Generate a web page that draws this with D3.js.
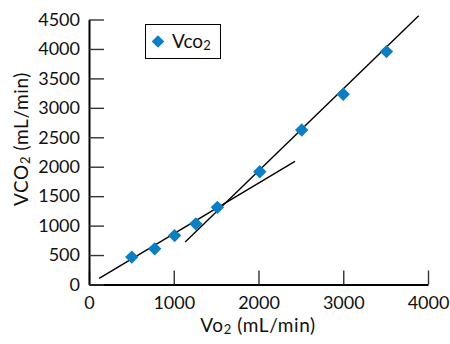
<!DOCTYPE html>
<html>
<head>
<meta charset="utf-8">
<script src="https://cdn.jsdelivr.net/npm/d3@7"></script>
<style>
  body { margin: 0; background: #fff; }
  text { font-family: Lato, "Open Sans", sans-serif; fill: #111; }
</style>
</head>
<body>
<svg id="chart" width="450" height="344"></svg>
<script>
// measured points (VO2, VCO2) in mL/min
const vo2 = [505, 775, 1010, 1260, 1515, 2015, 2510, 3000, 3510];
const vco2 = [465, 605, 830, 1030, 1310, 1915, 2625, 3230, 3955];

// two regression segments (start / end)
const lowerFit = [[120, 105], [2430, 2090]];
const upperFit = [[1135, 720], [3890, 4565]];

const xTicks = [0, 1000, 2000, 3000, 4000];
const yTicks = [0, 500, 1000, 1500, 2000, 2500, 3000, 3500, 4000, 4500];

const svg = d3.select("#chart");
const blue = "#0b7fc5";

const x = d3.scaleLinear().domain([0, 4000]).range([89, 428]);
const y = d3.scaleLinear().domain([0, 4500]).range([284.5, 19.5]);

// axes - ticks point inward
const xAxis = svg.append("g")
  .attr("transform", "translate(0,284.5)")
  .call(d3.axisBottom(x).tickValues(xTicks).tickFormat(d3.format("d"))
    .tickSizeInner(-14).tickSizeOuter(0).tickPadding(12));
const yAxis = svg.append("g")
  .attr("transform", "translate(89,0)")
  .call(d3.axisLeft(y).tickValues(yTicks).tickFormat(d3.format("d"))
    .tickSizeInner(-15).tickSizeOuter(0).tickPadding(9));

[xAxis, yAxis].forEach((g) => {
  g.select(".domain").attr("stroke", "#000").attr("stroke-width", 2);
  g.selectAll(".tick line").attr("stroke", "#333").attr("stroke-width", 1.4);
  g.selectAll(".tick text").attr("font-size", 18).attr("fill", "#111")
    .style("font-family", "Lato, sans-serif");
});

// fit lines
const line = d3.line().x((d) => x(d[0])).y((d) => y(d[1]));
[lowerFit, upperFit].forEach((seg) => {
  svg.append("path")
    .attr("d", line(seg))
    .attr("fill", "none")
    .attr("stroke", "#000")
    .attr("stroke-width", 1.4);
});

// data points (rotated squares)
const diamond = d3.symbol().type(d3.symbolSquare).size(90);
svg.append("g").selectAll("path")
  .data(vo2.map((v, i) => [v, vco2[i]]))
  .join("path")
  .attr("d", diamond)
  .attr("fill", blue)
  .attr("transform", (d) => `translate(${x(d[0])},${y(d[1])}) rotate(45)`);

// axis titles
const xt = svg.append("text")
  .attr("x", 258).attr("y", 332)
  .attr("text-anchor", "middle")
  .attr("letter-spacing", 0.6)
  .attr("font-size", 19);
xt.append("tspan").text("Vo");
xt.append("tspan").attr("font-size", 13).attr("dy", 2).text("2");
xt.append("tspan").attr("dy", -2).text(" (mL/min)");

const yt = svg.append("text")
  .attr("transform", "translate(28,139) rotate(-90)")
  .attr("text-anchor", "middle")
  .attr("letter-spacing", 0.6)
  .attr("font-size", 19);
yt.append("tspan").text("VCO");
yt.append("tspan").attr("font-size", 13).attr("dy", 2).text("2");
yt.append("tspan").attr("dy", -2).text(" (mL/min)");

// legend
const lg = svg.append("g");
lg.append("rect")
  .attr("x", 145.5).attr("y", 24.5).attr("width", 75).attr("height", 34)
  .attr("fill", "#fff").attr("stroke", "#000").attr("stroke-width", 1);
lg.append("path")
  .attr("d", d3.symbol().type(d3.symbolSquare).size(80)())
  .attr("fill", blue)
  .attr("transform", "translate(158,41.5) rotate(45)");
const lt = lg.append("text").attr("x", 172).attr("y", 47.5).attr("font-size", 19);
lt.append("tspan").text("Vco");
lt.append("tspan").attr("font-size", 13).attr("dy", 2).text("2");
</script>
</body>
</html>
